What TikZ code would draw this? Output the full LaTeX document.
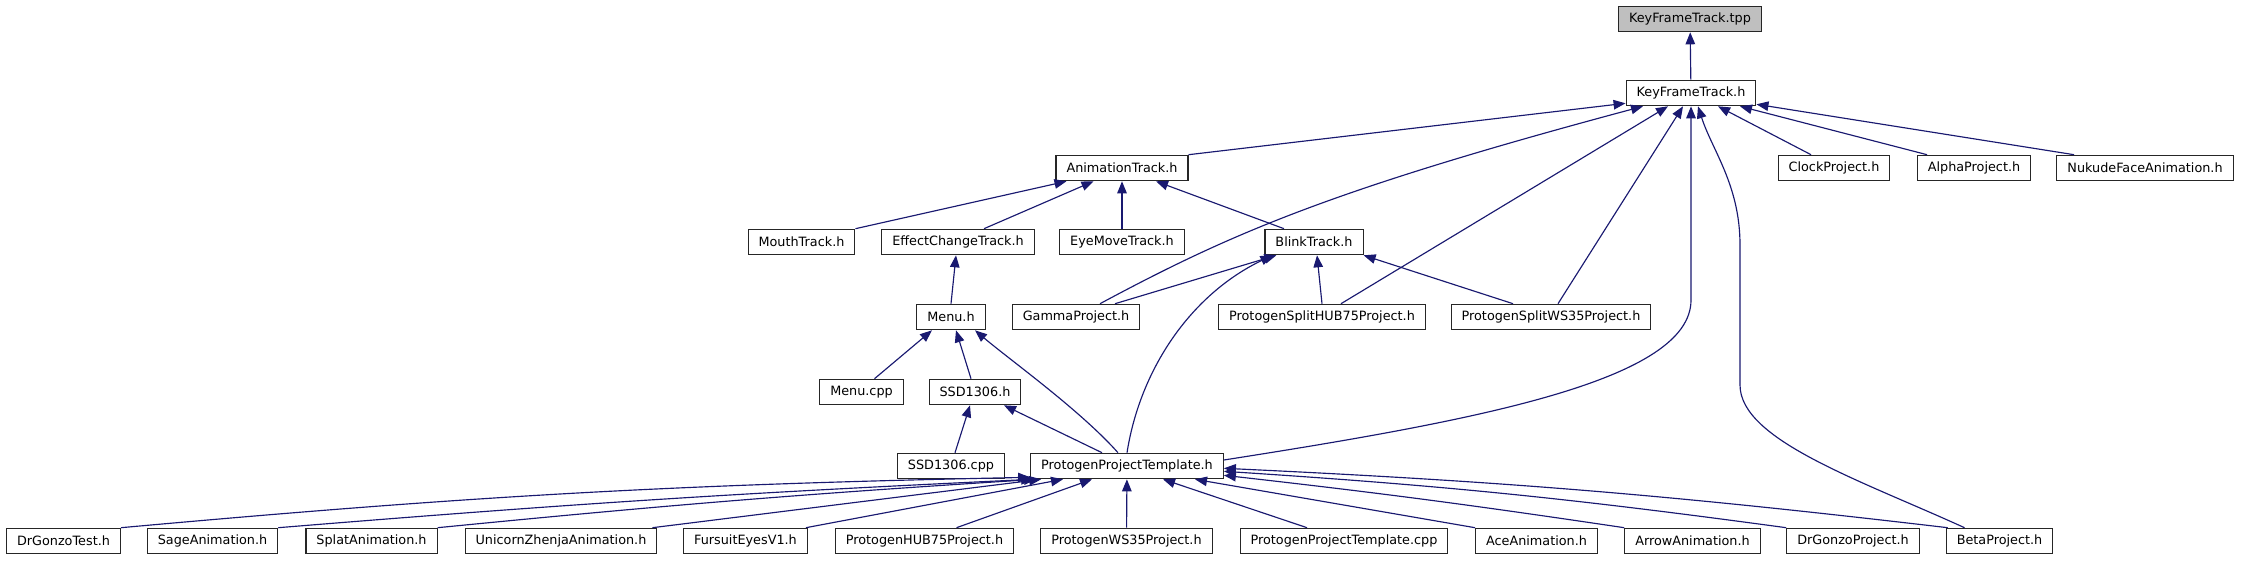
\documentclass[tikz,border=0pt]{standalone}
\usepackage{fontspec}
\setmainfont{DejaVu Sans}
\usetikzlibrary{arrows.meta}

\definecolor{edgeblue}{HTML}{191970}

\begin{document}
\begin{tikzpicture}[
  x=1pt, y=1pt,
  file/.style={draw=black!85, line width=1.1pt, fill=white, font=\fontsize{12.8}{14}\selectfont, minimum height=25.5pt, inner xsep=10.5pt, inner ysep=0pt},
  current/.style={file, fill=gray!50},
  arr/.style={edgeblue, line width=1.15pt, -{Triangle[length=12pt, width=9.5pt]}}
]
\useasboundingbox (0,0) rectangle (2243,560);

\node[current] (tpp) at (1690,541) {KeyFrameTrack.tpp};
\node[file] (kft) at (1691,467) {KeyFrameTrack.h};

\node[file] (anim) at (1122,392) {AnimationTrack.h};
\node[file] (clock) at (1834,392) {ClockProject.h};
\node[file] (alpha) at (1974,392) {AlphaProject.h};
\node[file] (nukude) at (2145,392) {NukudeFaceAnimation.h};

\node[file] (mouth) at (801.5,318) {MouthTrack.h};
\node[file] (effect) at (958,318) {EffectChangeTrack.h};
\node[file] (eyemove) at (1122,318) {EyeMoveTrack.h};
\node[file] (blink) at (1314,318) {BlinkTrack.h};

\node[file] (menu) at (951,243) {Menu.h};
\node[file] (gamma) at (1076,243) {GammaProject.h};
\node[file] (splithub) at (1322,243) {ProtogenSplitHUB75Project.h};
\node[file] (splitws) at (1551,243) {ProtogenSplitWS35Project.h};

\node[file] (menucpp) at (861.5,168) {Menu.cpp};
\node[file] (ssd) at (975,168) {SSD1306.h};

\node[file] (ssdcpp) at (951,94) {SSD1306.cpp};
\node[file] (ppt) at (1127,94) {ProtogenProjectTemplate.h};

\node[file] (gonzotest) at (63.5,19) {DrGonzoTest.h};
\node[file] (sage) at (212.5,19) {SageAnimation.h};
\node[file] (splat) at (371.5,19) {SplatAnimation.h};
\node[file] (unicorn) at (561,19) {UnicornZhenjaAnimation.h};
\node[file] (fursuit) at (745.5,19) {FursuitEyesV1.h};
\node[file] (hub) at (924.5,19) {ProtogenHUB75Project.h};
\node[file] (ws) at (1126.5,19) {ProtogenWS35Project.h};
\node[file] (pptcpp) at (1344,19) {ProtogenProjectTemplate.cpp};
\node[file] (ace) at (1536.5,19) {AceAnimation.h};
\node[file] (arrow) at (1692.5,19) {ArrowAnimation.h};
\node[file] (gonzoproj) at (1853,19) {DrGonzoProject.h};
\node[file] (beta) at (1999.5,19) {BetaProject.h};

% includes of KeyFrameTrack.h
\draw[arr] (kft) -- (tpp);
\draw[arr] (anim.north east) -- ([yshift=3pt]kft.south west);
\draw[arr] ([xshift=24pt]gamma.north) .. controls (1230,326) and (1330,370) .. ([xshift=-48pt]kft.south);
\draw[arr] ([xshift=19pt]splithub.north) -- ([xshift=-23pt]kft.south);
\draw[arr] ([xshift=7pt]splitws.north) -- ([xshift=-8pt]kft.south);
\draw[arr] ([yshift=6pt]ppt.east) .. controls (1480,140) and (1691,180) .. (1691,260) -- (kft.south);
\draw[arr] ([xshift=-35pt]beta.north) .. controls (1860,80) and (1740,120) .. (1740,175) -- (1740,315) .. controls (1740,375) and (1712,410) .. ([xshift=7pt]kft.south);
\draw[arr] ([xshift=-23pt]clock.north) -- ([xshift=27pt]kft.south);
\draw[arr] ([xshift=-47pt]alpha.north) -- ([xshift=49pt]kft.south);
\draw[arr] ([xshift=-71pt]nukude.north) -- ([yshift=2pt]kft.south east);

% AnimationTrack.h and BlinkTrack.h
\draw[arr] (mouth.north east) -- ([xshift=11pt]anim.south west);
\draw[arr] ([xshift=26pt]effect.north) -- ([xshift=38pt]anim.south west);
\draw[arr] (eyemove) -- (anim);
\draw[arr] ([xshift=-30pt]blink.north) -- ([xshift=34pt]anim.south);
\draw[arr] (menu.north) -- ([xshift=-2pt]effect.south);
\draw[arr] ([xshift=39pt]gamma.north) -- ([xshift=12pt]blink.south west);
\draw[arr] (splithub.north) -- ([xshift=3pt]blink.south);
\draw[arr] ([xshift=-38pt]splitws.north) -- (blink.south east);
\draw[arr] (ppt.north) .. controls (1140,190) and (1190,265) .. ([xshift=8pt]blink.south west);

% Menu.h and SSD1306.h
\draw[arr] ([xshift=13pt]menucpp.north) -- ([xshift=-19pt]menu.south);
\draw[arr] ([xshift=-4pt]ssd.north) -- ([xshift=5pt]menu.south);
\draw[arr] ([xshift=-9pt]ppt.north) .. controls (1080,150) and (1010,200) .. ([xshift=24pt]menu.south);
\draw[arr] ([xshift=4pt]ssdcpp.north) -- ([xshift=-5pt]ssd.south);
\draw[arr] ([xshift=-25pt]ppt.north) -- ([xshift=29pt]ssd.south);

% ProtogenProjectTemplate.h
\draw[arr] (gonzotest.north east) to[bend left=2] ([yshift=2pt]ppt.south west);
\draw[arr] (sage.north east) to[bend left=1] ([xshift=3pt]ppt.south west);
\draw[arr] (splat.north east) to[bend left=1] ([xshift=6pt]ppt.south west);
\draw[arr] ([xshift=-5pt]unicorn.north east) -- ([xshift=11pt]ppt.south west);
\draw[arr] ([xshift=-2pt]fursuit.north east) -- ([xshift=-64pt]ppt.south);
\draw[arr] ([xshift=32pt]hub.north) -- ([xshift=-35pt]ppt.south);
\draw[arr] (ws) -- (ppt);
\draw[arr] ([xshift=-37pt]pptcpp.north) -- ([xshift=36pt]ppt.south);
\draw[arr] (ace.north west) -- ([xshift=68pt]ppt.south);
\draw[arr] (arrow.north west) to[bend right=1] ([yshift=4pt]ppt.south east);
\draw[arr] (gonzoproj.north west) to[bend right=2] ([yshift=8pt]ppt.south east);
\draw[arr] ([xshift=2pt]beta.north west) to[bend right=2] ([yshift=11pt]ppt.south east);
\end{tikzpicture}
\end{document}
